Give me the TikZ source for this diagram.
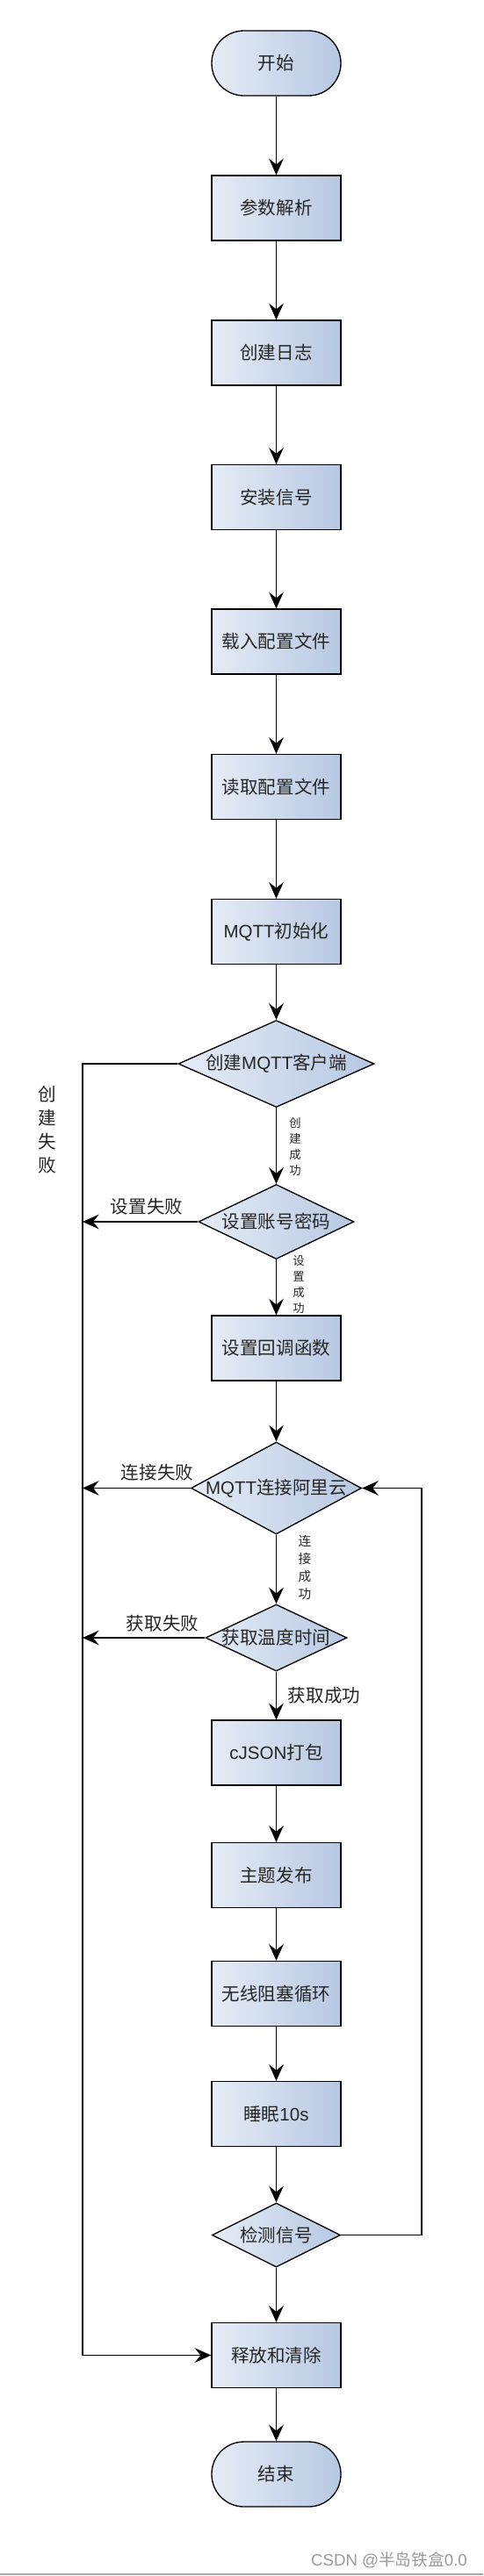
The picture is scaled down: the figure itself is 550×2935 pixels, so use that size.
\documentclass[tikz,border=0pt]{standalone}
\usepackage{fontspec}
\setmainfont{Noto Sans CJK SC}
\newfontfamily\latin{Liberation Sans}
\usepackage{tikz}
\usetikzlibrary{shapes.geometric,arrows.meta}
\definecolor{boxl}{HTML}{E6ECF6}
\definecolor{boxr}{HTML}{B6C8E2}
\definecolor{txt}{HTML}{262626}
\definecolor{wmark}{HTML}{9A9A9A}
\newcommand\mainsz{\fontsize{15.4pt}{18pt}\selectfont}
\tikzset{
  base/.style={draw=black, line width=1pt, left color=boxl, right color=boxr,
    text=txt, font=\mainsz, inner sep=0pt},
  box/.style={base, rectangle, minimum width=110.25pt, minimum height=55.5pt},
  term/.style={box, rounded corners=27.5pt},
  dec/.style={base, diamond, label={[font=\mainsz, text=txt]center:#1}},
  arr/.style={draw=black, line width=1pt, -{Stealth[length=14pt,width=12.5pt,inset=5pt]}},
  lab/.style={font=\mainsz, text=txt, inner sep=0pt},
  vlab/.style={font=\fontsize{10pt}{13.5pt}\selectfont, text=txt, align=center, inner sep=0pt},
  wm/.style={font=\fontsize{14pt}{16pt}\selectfont, text=wmark, inner sep=0pt}
}

\begin{document}
\begin{tikzpicture}[x=0.75pt, y=-0.75pt]
  \fill[white] (0,0) rectangle (550,2935);
  \useasboundingbox (0,0) rectangle (550,2935);

  % main column
  \node[term] (start) at (314.5,72) {开始};
  \node[box] (b1) at (314.5,237) {参数解析};
  \node[box] (b2) at (314.5,402) {创建日志};
  \node[box] (b3) at (314.5,566.5) {安装信号};
  \node[box] (b4) at (314.5,731) {载入配置文件};
  \node[box] (b5) at (314.5,896.5) {读取配置文件};
  \node[box] (b6) at (314.5,1061.5) {{\latin MQTT}初始化};
  \node[dec={创建{\latin MQTT}客户端}, minimum width=167.25pt, minimum height=74.25pt] (d1) at (314.5,1212) {};
  \node[dec=设置账号密码, minimum width=132.75pt, minimum height=63.75pt] (d2) at (314.5,1392) {};
  \node[box] (b7) at (314.5,1536) {设置回调函数};
  \node[dec={{\latin MQTT}连接阿里云}, minimum width=145.5pt, minimum height=78.75pt] (d3) at (314.5,1695.5) {};
  \node[dec=获取温度时间, minimum width=120.75pt, minimum height=57pt] (d4) at (314.5,1866) {};
  \node[box] (b8) at (314.5,1997) {{\latin cJSON}打包};
  \node[box] (b9) at (314.5,2136.5) {主题发布};
  \node[box] (b10) at (314.5,2271.5) {无线阻塞循环};
  \node[box] (b11) at (314.5,2408.5) {睡眠{\latin 10s}};
  \node[dec=检测信号, minimum width=109.5pt, minimum height=54.75pt] (d5) at (314.5,2546.5) {};
  \node[box] (b12) at (314.5,2683.5) {释放和清除};
  \node[term] (stop) at (314.5,2819) {结束};

  \foreach \a/\b in {start/b1,b1/b2,b2/b3,b3/b4,b4/b5,b5/b6,b6/d1,d1/d2,d2/b7,b7/d3,
      d3/d4,d4/b8,b8/b9,b9/b10,b10/b11,b11/d5,d5/b12,b12/stop}
    \draw[arr] (\a) -- (\b);

  % failure branch and loop back
  \coordinate (lt) at (94,1212);
  \coordinate (lb) at (94,2683.5);
  \coordinate (rx) at (480,2546.5);
  \draw[arr] (d1.west) -- (lt) -- (lb) -- (b12.west);
  \foreach \n in {d2,d3,d4}
    \draw[arr] (\n.west) -- (\n.west -| lt);
  \draw[arr] (d5.east) -- (rx) -- (rx |- d3.east) -- (d3.east);

  % labels
  \node[lab, align=center, font=\fontsize{15.4pt}{20.25pt}\selectfont] (l1) at (54,1287) {创\\建\\失\\败};
  \node[vlab] (l2) at (336,1306.5) {创\\建\\成\\功};
  \node[lab] (l3) at (167,1375) {设置失败};
  \node[vlab] (l4) at (340,1463.5) {设\\置\\成\\功};
  \node[lab] (l5) at (179,1678) {连接失败};
  \node[vlab, font=\fontsize{11pt}{15pt}\selectfont] (l6) at (347,1785.5) {连\\接\\成\\功};
  \node[lab] (l7) at (185,1850) {获取失败};
  \node[lab] (l8) at (369,1932) {获取成功};

  \node[wm] (mark) at (443,2917) {{\latin CSDN @}半岛铁盒{\latin 0.0}};
  \draw[gray!70, line width=1.5pt] (0,2933) -- (550,2933);
\end{tikzpicture}
\end{document}
